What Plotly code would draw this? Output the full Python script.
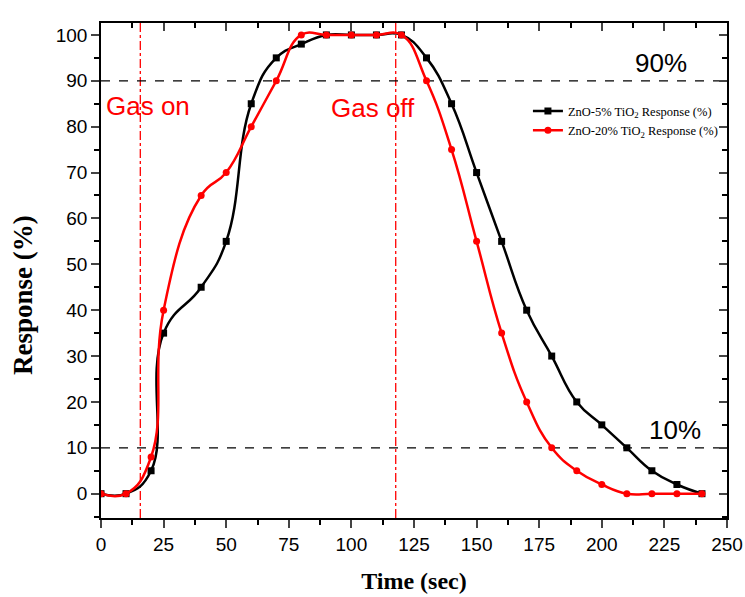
import plotly.graph_objects as go

# Data
time_5 = [0, 10, 20, 25, 40, 50, 60, 70, 80, 90, 100, 110, 120, 130, 140, 150, 160, 170, 180, 190, 200, 210, 220, 230, 240]
resp_5 = [0, 0, 5, 35, 45, 55, 85, 95, 98, 100, 100, 100, 100, 95, 85, 70, 55, 40, 30, 20, 15, 10, 5, 2, 0]
time_20 = [0, 10, 20, 25, 40, 50, 60, 70, 80, 90, 100, 110, 120, 130, 140, 150, 160, 170, 180, 190, 200, 210, 220, 230, 240]
resp_20 = [0, 0, 8, 40, 65, 70, 80, 90, 100, 100, 100, 100, 100, 90, 75, 55, 35, 20, 10, 5, 2, 0, 0, 0, 0]
gas_on_t = 15.7
gas_off_t = 117.7
thresholds = [90, 10]
x_ticks = [0, 25, 50, 75, 100, 125, 150, 175, 200, 225, 250]
y_ticks = [0, 10, 20, 30, 40, 50, 60, 70, 80, 90, 100]
y_minor = [-5, 5, 15, 25, 35, 45, 55, 65, 75, 85, 95]

fig = go.Figure()
fig.add_trace(go.Scatter(
    x=time_5, y=resp_5, mode="lines+markers",
    name="ZnO-5% TiO<sub>2</sub> Response (%)",
    line=dict(color="black", width=2.5, shape="spline", smoothing=1.3),
    marker=dict(symbol="square", size=7, color="black"),
))
fig.add_trace(go.Scatter(
    x=time_20, y=resp_20, mode="lines+markers",
    name="ZnO-20% TiO<sub>2</sub> Response (%)",
    line=dict(color="red", width=2.5, shape="spline", smoothing=1.3),
    marker=dict(symbol="circle", size=7, color="red"),
))
# empty trace on mirror axes so they render
fig.add_trace(go.Scatter(x=[], y=[], xaxis="x2", yaxis="y2", showlegend=False, hoverinfo="skip"))

for th in thresholds:
    fig.add_shape(type="line", xref="x", yref="y", x0=0, x1=250, y0=th, y1=th,
                  line=dict(color="black", width=1.3, dash="dash"), layer="below")
for t in [gas_on_t, gas_off_t]:
    fig.add_shape(type="line", xref="x", yref="paper", x0=t, x1=t, y0=0, y1=1,
                  line=dict(color="red", width=1.3, dash="dashdot"), layer="below")

ann_font = dict(family="Liberation Sans, Arial", size=26, color="red")
fig.add_annotation(x=1.0, y=84.5, xref="x", yref="y", text="Gas on", showarrow=False,
                   xanchor="left", yanchor="middle", font=ann_font)
fig.add_annotation(x=91.2, y=84.0, xref="x", yref="y", text="Gas off", showarrow=False,
                   xanchor="left", yanchor="middle", font=ann_font)
blk_font = dict(family="Liberation Sans, Arial", size=26, color="black")
fig.add_annotation(x=212.5, y=93.8, xref="x", yref="y", text="90%", showarrow=False,
                   xanchor="left", yanchor="middle", font=blk_font)
fig.add_annotation(x=218.0, y=13.9, xref="x", yref="y", text="10%", showarrow=False,
                   xanchor="left", yanchor="middle", font=blk_font)

tick_font = dict(family="Liberation Sans, Arial", size=19, color="black")
xtitle_font = dict(family="Liberation Serif, Times New Roman", size=24, color="black")
ytitle_font = dict(family="Liberation Serif, Times New Roman", size=27, color="black")

# y-axis title placed slightly below plot centre, as in the reference
fig.add_annotation(x=-0.125, y=0.45, xref="paper", yref="paper", text="<b>Response (%)</b>",
                   textangle=-90, showarrow=False, xanchor="center", yanchor="middle", font=ytitle_font)

fig.update_layout(
    width=745, height=597,
    margin=dict(l=101, r=18, t=23, b=79, autoexpand=False),
    plot_bgcolor="white", paper_bgcolor="white",
    showlegend=True,
    legend=dict(x=0.682, y=0.852, xanchor="left", yanchor="top",
                bgcolor="rgba(0,0,0,0)", font=dict(family="Liberation Serif, Times New Roman", size=12.5, color="black"),
                itemwidth=30, tracegroupgap=0),
    xaxis=dict(range=[0, 250], tickvals=x_ticks, ticks="outside", ticklen=8, tickwidth=1.5,
               showline=True, linecolor="black", linewidth=1.5, showgrid=False, zeroline=False,
               tickfont=tick_font, automargin=False,
               minor=dict(dtick=12.5, ticks="outside", ticklen=5, tickwidth=1.5, tickcolor="black", showgrid=False),
               title=dict(text="<b>Time (sec)</b>", font=xtitle_font, standoff=19)),
    yaxis=dict(range=[-5.3, 102.6], tickvals=y_ticks, ticks="outside", ticklen=8, tickwidth=1.5,
               showline=True, linecolor="black", linewidth=1.5, showgrid=False, zeroline=False,
               tickfont=tick_font, automargin=False,
               minor=dict(tickvals=y_minor, ticks="outside", ticklen=5, tickwidth=1.5, tickcolor="black", showgrid=False)),
    xaxis2=dict(range=[0, 250], overlaying="x", side="top", tickvals=x_ticks, ticks="inside", ticklen=8, tickwidth=1.5,
                showline=True, linecolor="black", linewidth=1.5, showgrid=False, zeroline=False, showticklabels=False,
                automargin=False,
                minor=dict(dtick=12.5, ticks="inside", ticklen=5, tickwidth=1.5, tickcolor="black", showgrid=False)),
    yaxis2=dict(range=[-5.3, 102.6], overlaying="y", side="right", tickvals=y_ticks, ticks="inside", ticklen=8, tickwidth=1.5,
                showline=True, linecolor="black", linewidth=1.5, showgrid=False, zeroline=False, showticklabels=False,
                automargin=False,
                minor=dict(tickvals=y_minor, ticks="inside", ticklen=5, tickwidth=1.5, tickcolor="black", showgrid=False)),
)

fig.write_html("out.html")
